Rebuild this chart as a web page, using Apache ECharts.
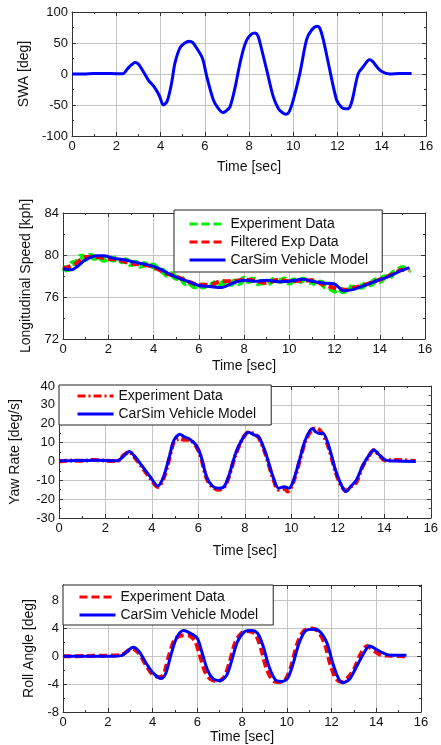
<!DOCTYPE html>
<html lang="en">
<style>
  #container {
    width: 441px;
    height: 745px;
  }

  body {
    margin: 0;
    background: #fff;
  }
</style>

<head>
  <meta charset="UTF-8">
  <script src="https://cdn.jsdelivr.net/npm/echarts@6/dist/echarts.min.js"></script>
</head>

<body>
  <div id="container"></div>
  <script>
    // 方向盘转角 SWA
    var swaT = [0, 0.5, 1, 1.5, 2, 2.3, 2.5, 2.7, 2.85, 3.0, 3.22, 3.45, 3.7, 3.95, 4.13, 4.3, 4.5, 4.65, 4.88, 5.1, 5.3, 5.45, 5.63, 5.9, 6.09, 6.39, 6.6, 6.81, 6.95, 7.14, 7.37, 7.56, 7.75, 7.9, 8.1, 8.27, 8.4, 8.5, 8.8, 9.1, 9.33, 9.5, 9.67, 9.8, 10.0, 10.3, 10.6, 10.83, 11.09, 11.2, 11.36, 11.59, 11.96, 12.19, 12.35, 12.49, 12.6, 12.7, 12.94, 13.17, 13.44, 13.6, 13.77, 14.0, 14.37, 14.8, 15.35];
    var swaV = [0, 0, 1, 1, 0.5, 0.5, 8, 15, 18.4, 16, 4, -9.7, -20, -35, -50, -44, -15, 17, 42, 50, 53, 51, 42, 25, -4, -42, -55, -62, -60, -53, -22, 12, 40, 55, 64, 66, 62, 50, 6.5, -37, -56, -62, -65, -62, -42, 1, 55, 71, 77, 74, 55, 17, -42, -54, -56, -56, -50, -37, 1, 12, 23, 20, 12, 4, 0, 1, 1];

    // 纵向车速
    var spdExpT = [0, 0.2, 0.4, 0.6, 0.8, 1.0, 1.2, 1.4, 1.6, 1.8, 2.0, 2.2, 2.4, 2.6, 2.8, 3.0, 3.2, 3.4, 3.6, 3.8, 4.0, 4.2, 4.4, 4.6, 4.8, 5.0, 5.2, 5.4, 5.6, 5.8, 6.0, 6.2, 6.4, 6.6, 6.8, 7.0, 7.2, 7.4, 7.6, 7.8, 8.0, 8.2, 8.4, 8.6, 8.8, 9.0, 9.2, 9.4, 9.6, 9.8, 10.0, 10.2, 10.4, 10.6, 10.8, 11.0, 11.2, 11.4, 11.6, 11.8, 12.0, 12.2, 12.4, 12.6, 12.8, 13.0, 13.2, 13.4, 13.6, 13.8, 14.0, 14.2, 14.4, 14.6, 14.8, 15.0, 15.2, 15.35];
    var spdExpV = [78.8, 78.6, 79.2, 79.3, 79.9, 79.6, 79.95, 79.7, 79.9, 79.5, 79.8, 79.55, 79.75, 79.4, 79.5, 79.1, 79.3, 78.95, 79.15, 78.9, 79.0, 78.6, 78.5, 78.1, 78.2, 77.8, 77.9, 77.3, 77.4, 77.0, 77.2, 76.95, 77.3, 77.1, 77.5, 77.2, 77.55, 77.2, 77.5, 77.3, 77.8, 77.5, 77.7, 77.3, 77.45, 77.2, 77.5, 77.75, 77.5, 77.7, 77.35, 77.6, 77.4, 77.7, 77.4, 77.5, 77.2, 77.4, 77.0, 76.9, 76.6, 76.8, 76.5, 77.0, 76.8, 77.1, 76.95, 77.3, 77.2, 77.6, 77.5, 77.9, 77.8, 78.3, 78.5, 78.8, 78.5, 78.6];
    var spdFiltT = [0, 0.5, 1.0, 1.5, 2.0, 2.5, 3.0, 3.5, 4.0, 4.5, 5.0, 5.5, 6.0, 6.5, 7.0, 7.5, 8.0, 8.5, 9.0, 9.5, 10.0, 10.5, 11.0, 11.5, 12.0, 12.5, 13.0, 13.5, 14.0, 14.5, 15.0, 15.3];
    var spdFiltV = [78.7, 79.1, 79.8, 79.8, 79.65, 79.5, 79.2, 79.08, 78.86, 78.3, 77.97, 77.5, 77.17, 77.17, 77.5, 77.5, 77.65, 77.55, 77.33, 77.65, 77.5, 77.55, 77.6, 77.17, 76.86, 76.7, 76.95, 77.27, 77.65, 78.1, 78.6, 78.54];
    var spdSimT = [0, 0.4, 0.6, 1.0, 1.5, 1.8, 2.2, 2.7, 3.2, 3.7, 4.2, 4.6, 5.0, 5.5, 6.0, 6.5, 7.0, 7.5, 8.0, 8.5, 9.0, 9.5, 10.0, 10.6, 11.0, 11.5, 12.0, 12.4, 12.8, 13.3, 13.8, 14.3, 14.8, 15.3];
    var spdSimV = [78.67, 78.6, 78.85, 79.55, 79.94, 79.94, 79.7, 79.55, 79.3, 79.08, 78.76, 78.3, 77.9, 77.5, 77.1, 77.0, 76.9, 77.33, 77.6, 77.5, 77.6, 77.46, 77.5, 77.7, 77.5, 77.33, 77.24, 76.6, 76.7, 77.08, 77.5, 77.87, 78.38, 78.8];

    // 横摆角速度
    var yawExpT = [0, 0.5, 1.0, 1.5, 2.0, 2.5, 2.8, 3.02, 3.3, 3.6, 3.9, 4.25, 4.5, 4.75, 4.95, 5.2, 5.4, 5.6, 5.9, 6.1, 6.35, 6.6, 6.85, 7.1, 7.3, 7.6, 7.9, 8.15, 8.4, 8.6, 8.9, 9.2, 9.45, 9.7, 9.85, 10.1, 10.35, 10.6, 10.9, 11.1, 11.35, 11.6, 11.9, 12.15, 12.35, 12.55, 12.8, 13.05, 13.3, 13.55, 13.8, 14.05, 14.5, 15.35];
    var yawExpV = [0, 0.5, 0.3, 0.8, 0.4, 0.2, 3.5, 5, 1.5, -3.5, -8.5, -13.5, -9, 1.5, 10.5, 12, 11.5, 11.5, 8, 2.5, -9, -13.5, -15, -13.8, -8.5, 3.5, 12, 15.5, 14.5, 12.5, 3.5, -8.5, -15, -14.5, -16, -10.5, 0, 10.5, 17, 17.5, 14.5, 7.5, -5.5, -13, -15.5, -13.5, -11, -3, 2, 6, 3, 0.5, 0.8, 0.2];
    var yawSimT = [0, 0.5, 1.0, 1.5, 2.0, 2.5, 2.75, 3.02, 3.3, 3.6, 3.9, 4.25, 4.5, 4.75, 4.95, 5.2, 5.4, 5.6, 5.9, 6.1, 6.35, 6.6, 6.85, 7.1, 7.3, 7.6, 7.9, 8.15, 8.4, 8.6, 8.9, 9.2, 9.45, 9.7, 9.9, 10.1, 10.35, 10.6, 10.9, 11.05, 11.2, 11.35, 11.6, 11.9, 12.15, 12.35, 12.55, 12.8, 13.05, 13.3, 13.55, 13.8, 14.05, 14.5, 15.35];
    var yawSimV = [0.3, 0.4, 0.5, 0.6, 0.5, 0.3, 2.5, 5.3, 2.1, -2.8, -7.7, -13, -8.1, 2.5, 11.3, 14.4, 13, 12, 8.6, 3.3, -8.1, -13, -14.2, -13.4, -8.1, 4.2, 12.1, 15.5, 14.1, 13, 4.2, -7.7, -14.2, -13.4, -14.2, -9.8, 0.7, 11.3, 17.4, 15.7, 14.8, 15.1, 8.6, -4.6, -12.5, -16, -13.4, -9.8, -2.8, 2.5, 6, 3.3, 0.7, 0.2, 0];

    // 侧倾角
    var rollExpT = [0, 1, 2, 2.6, 3.1, 3.4, 3.7, 4.0, 4.3, 4.5, 4.75, 5.0, 5.3, 5.6, 5.9, 6.1, 6.35, 6.6, 6.9, 7.2, 7.45, 7.7, 8.0, 8.3, 8.6, 8.85, 9.1, 9.4, 9.7, 9.95, 10.2, 10.45, 10.75, 11.1, 11.4, 11.7, 11.95, 12.2, 12.45, 12.75, 13.0, 13.3, 13.6, 13.9, 14.2, 14.6, 15.35];
    var rollExpV = [0, 0.05, 0.1, 0.2, 1.1, 0.4, -1.2, -2.6, -3.0, -2.6, 0.3, 2.4, 3.0, 3.0, 2.2, 0.3, -2.2, -3.3, -3.6, -3.0, -0.8, 2.0, 3.4, 3.6, 3.2, 1.1, -1.8, -3.5, -3.7, -3.3, -1.4, 1.6, 3.6, 4.0, 3.6, 1.8, -1.2, -3.2, -3.7, -3.0, -1.9, 0.3, 1.5, 0.8, 0.2, 0.1, 0.0];
    var rollSimT = [0, 1, 2, 2.6, 3.15, 3.4, 3.7, 4.0, 4.4, 4.6, 4.85, 5.1, 5.4, 5.7, 6.0, 6.2, 6.45, 6.7, 7.0, 7.3, 7.55, 7.8, 8.1, 8.4, 8.7, 8.95, 9.2, 9.5, 9.8, 10.05, 10.3, 10.55, 10.85, 11.2, 11.5, 11.8, 12.05, 12.3, 12.5, 12.8, 13.1, 13.4, 13.7, 14.0, 14.3, 14.6, 15.35];
    var rollSimV = [0, 0, 0, 0.1, 1.3, 0.7, -0.9, -2.3, -3.2, -2.4, 0.5, 2.8, 3.7, 3.3, 2.6, 0.7, -1.9, -3.2, -3.5, -2.8, -0.5, 2.1, 3.5, 3.7, 3.3, 1.4, -1.4, -3.4, -3.6, -3.1, -0.9, 1.9, 3.7, 3.9, 3.5, 1.9, -0.9, -3.1, -3.8, -3.3, -1.6, 0.2, 1.5, 1.0, 0.5, 0.15, 0.15];

    var myChart = echarts.init(document.getElementById('container'));

    var zip = function (t, v) {
      var res = [];
      for (var i = 0; i < t.length; i++) res.push([t[i], v[i]]);
      return res;
    };

    var legendText = {
      spdExp: 'Experiment Data', spdFilt: 'Filtered Exp Data', spdSim: 'CarSim Vehicle Model',
      yawExp: 'Experiment Data', yawSim: 'CarSim Vehicle Model',
      rollExp: 'Experiment Data', rollSim: 'CarSim Vehicle Model'
    };

    var txt = '#111';
    var font = 'Liberation Sans, Arial, sans-serif';

    // 每个面板: 网格 + 下/上 x 轴 + 左/右 y 轴
    var panels = [
      { left: 72, right: 15, top: 12, height: 124, ymin: -100, ymax: 100, yint: 50, yname: 'SWA [deg]', ygap: 40, xgap: 24 },
      { left: 63, right: 16, top: 213, height: 126, ymin: 72, ymax: 84, yint: 4, yname: 'Longitudinal Speed [kph]', ygap: 29, xgap: 20 },
      { left: 59, right: 8, top: 386, height: 132, ymin: -30, ymax: 40, yint: 10, yname: 'Yaw Rate [deg/s]', ygap: 37, xgap: 26 },
      { left: 63, right: 20, top: 585, height: 127, ymin: -8, ymax: 10.25, yint: 4, yname: 'Roll Angle [deg]', ygap: 27, xgap: 16 }
    ];

    var grid = [], xAxis = [], yAxis = [];
    panels.forEach(function (p, i) {
      grid.push({ left: p.left, right: p.right, top: p.top, height: p.height });
      var common = {
        axisLine: { show: true, onZero: false, lineStyle: { color: '#333', width: 1 } },
        axisTick: { show: true, inside: true, length: 4, lineStyle: { color: '#333' } },
        minorTick: { show: true, splitNumber: 2, length: 2, lineStyle: { color: '#333' } }
      };
      xAxis.push(Object.assign({
        type: 'value', gridIndex: i, min: 0, max: 16, interval: 2, position: 'bottom',
        name: 'Time [sec]', nameLocation: 'middle', nameGap: p.xgap,
        nameTextStyle: { fontSize: 14, color: txt, fontFamily: font },
        axisLabel: { fontSize: 13, color: txt, margin: 4, fontFamily: font },
        splitLine: { show: true, lineStyle: { color: '#c4c4c4' } }
      }, common));
      xAxis.push(Object.assign({
        type: 'value', gridIndex: i, min: 0, max: 16, interval: 2, position: 'top',
        axisLabel: { show: false }, splitLine: { show: false }
      }, common));
      yAxis.push(Object.assign({
        type: 'value', gridIndex: i, min: p.ymin, max: p.ymax, interval: p.yint, position: 'left',
        name: p.yname, nameLocation: 'middle', nameGap: p.ygap,
        nameTextStyle: { fontSize: 14, color: txt, fontFamily: font },
        axisLabel: { fontSize: 13, color: txt, margin: 4, fontFamily: font, showMaxLabel: i !== 3 },
        splitLine: { show: true, lineStyle: { color: '#c4c4c4' } }
      }, common));
      yAxis.push(Object.assign({
        type: 'value', gridIndex: i, min: p.ymin, max: p.ymax, interval: p.yint, position: 'right',
        axisLabel: { show: false }, splitLine: { show: false }
      }, common));
    });

    var line = function (name, idx, data, color, width, type, z) {
      return {
        name: name, type: 'line', xAxisIndex: idx * 2, yAxisIndex: idx * 2,
        data: data, symbol: 'none', smooth: 0.3, z: z || 2,
        lineStyle: { color: color, width: width, type: type },
        itemStyle: { color: color }
      };
    };

    var series = [
      line('swa', 0, zip(swaT, swaV), '#0000ff', 3, 'solid'),
      Object.assign(line('spdExp', 1, zip(spdExpT, spdExpV), '#00ee00', 6, [8, 4]), { smooth: false }),
      line('spdFilt', 1, zip(spdFiltT, spdFiltV), '#ff0000', 4, [8, 4], 3),
      line('spdSim', 1, zip(spdSimT, spdSimV), '#0000ff', 3, 'solid', 4),
      line('yawExp', 2, zip(yawExpT, yawExpV), '#ff0000', 4, [8, 3, 2, 3]),
      line('yawSim', 2, zip(yawSimT, yawSimV), '#0000ff', 3, 'solid', 3),
      line('rollExp', 3, zip(rollExpT, rollExpV), '#ff0000', 4, [8, 4]),
      line('rollSim', 3, zip(rollSimT, rollSimV), '#0000ff', 3, 'solid', 3)
    ];

    var legend = function (names, left, top, padding) {
      return {
        data: names, orient: 'vertical', left: left, top: top,
        itemWidth: 36, itemHeight: 14, itemGap: 4, padding: padding,
        backgroundColor: '#fff', borderColor: '#222', borderWidth: 1, borderRadius: 0,
        selectedMode: false,
        itemStyle: { opacity: 0 },
        lineStyle: { width: 3 },
        textStyle: { fontSize: 14, color: txt, fontFamily: font },
        formatter: function (n) { return legendText[n]; }
      };
    };

    var option = {
      backgroundColor: '#fff',
      animation: false,
      grid: grid,
      xAxis: xAxis,
      yAxis: yAxis,
      legend: [
        legend(['spdExp', 'spdFilt', 'spdSim'], 174, 210, [7, 14, 5, 14]),
        legend(['yawExp', 'yawSim'], 59, 385, [4, 15, 4, 17]),
        legend(['rollExp', 'rollSim'], 63, 585, [5, 15, 3, 15])
      ],
      series: series
    };

    myChart.setOption(option);
  </script>
</body>

</html>
